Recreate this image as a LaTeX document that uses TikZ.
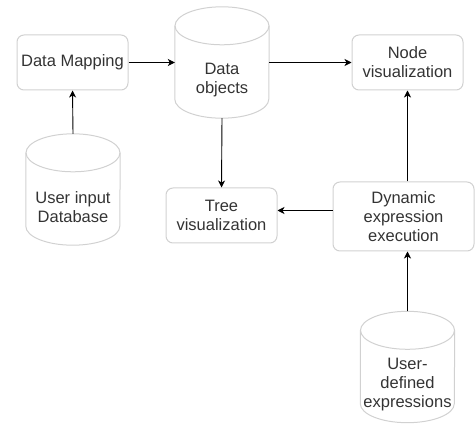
\documentclass[tikz,border=0pt]{standalone}
\usepackage{fontspec}
\setmainfont{Liberation Sans}
\usetikzlibrary{arrows.meta}

\begin{document}
\begin{tikzpicture}[x=1pt, y=1pt,
  procbox/.style={draw=black!18, line width=1pt, rounded corners=7pt,
    minimum width=111pt, minimum height=55pt, align=center,
    text=black!80, font=\fontsize{16.5}{19}\selectfont},
  storecyl/.style={minimum width=94pt, minimum height=111pt, inner sep=0pt},
  storeline/.style={draw=black!18, line width=1pt},
  storetext/.style={align=center, text=black!80,
    font=\fontsize{16.5}{19}\selectfont},
  linkarrow/.style={-{Stealth[length=7pt, width=7pt, inset=2pt]}, line width=0.9pt}
]
\useasboundingbox (0,0) rectangle (475,424);
% boxes
\node[procbox] (mapping) at (72.5,361.5) {Data Mapping};
\node[procbox] (nodevis) at (407.5,361.5) {Node\\visualization};
\node[procbox] (treevis) at (221.5,208.5) {Tree\\visualization};
\node[procbox, minimum width=141pt, minimum height=69pt] (dynexec) at (403.5,207.5) {Dynamic\\expression\\execution};
% data stores
\node[storecyl] (userin) at (73,234.5) {};
\node[storecyl] (objects) at (222,361.5) {};
\node[storecyl] (userdef) at (407.5,57) {};
\foreach \c in {userin,objects,userdef} {
  \draw[storeline] ([yshift=-19pt]\c.north) ellipse [x radius=47, y radius=19];
  \draw[storeline] ([yshift=-19pt]\c.north west) -- ([yshift=19pt]\c.south west)
    arc[start angle=180, end angle=360, x radius=47, y radius=19]
    -- ([yshift=-19pt]\c.north east);
}
\node[storetext] (userin-text) at ([yshift=-17.5pt]userin.center) {User input\\Database};
\node[storetext] (objects-text) at ([yshift=-17.5pt]objects.center) {Data\\objects};
\node[storetext] (userdef-text) at ([yshift=-17.5pt]userdef.center) {User-\\defined\\expressions};
% connectors
\foreach \a/\b in {mapping/objects,objects/nodevis}
  \draw[linkarrow] (\a.east) -- (\b.west);
\draw[linkarrow] (userin.north) -- (mapping.south);
\draw[linkarrow] (objects.south) -- (treevis.north);
\draw[linkarrow] (userdef.north) -- (userdef.north |- dynexec.south);
\draw[linkarrow] (dynexec.north -| nodevis.south) -- (nodevis.south);
\coordinate (dynin) at ([yshift=6pt]dynexec.west);
\draw[linkarrow] (dynin) -- (dynin -| treevis.east);
\end{tikzpicture}
\end{document}
